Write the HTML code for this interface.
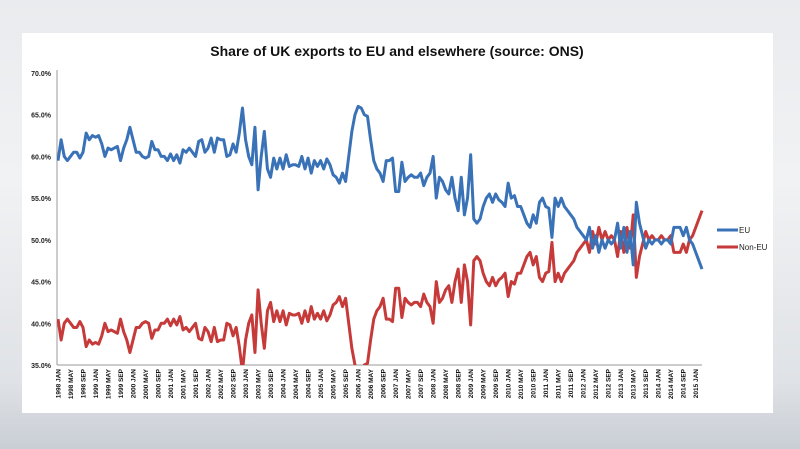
<!DOCTYPE html>
<html><head><meta charset="utf-8">
<style>
html,body{margin:0;padding:0;width:800px;height:449px;overflow:hidden;
background:linear-gradient(180deg,#e9ebee 0%,#f1f2f4 40%,#dfe2e6 85%,#c9ced5 100%);
font-family:"Liberation Sans",sans-serif;}
#panel{position:absolute;left:22px;top:33px;width:751px;height:380px;background:#fff;}
svg{position:absolute;left:0;top:0;}
</style></head>
<body>
<div id="panel"></div>
<svg id="chart" width="800" height="449">
<defs><clipPath id="plotclip"><rect x="57" y="70" width="660" height="295"/></clipPath></defs>
<text x="397" y="56" text-anchor="middle" font-size="14" font-weight="bold" fill="#111">Share of UK exports to EU and elsewhere (source: ONS)</text>
<g id="yaxis"></g><g id="xaxis"></g><g id="series" clip-path="url(#plotclip)"></g>
<g>
<line x1="717" y1="230" x2="738" y2="230" stroke="#3a72b8" stroke-width="3"/>
<text x="739" y="233" font-size="8" fill="#222">EU</text>
<line x1="717" y1="247" x2="738" y2="247" stroke="#c63a3a" stroke-width="3"/>
<text x="739" y="250" font-size="8" fill="#222">Non-EU</text>
</g>
</svg>
<script>
const yTicks=[70,65,60,55,50,45,40,35];
const years=[1998,1999,2000,2001,2002,2003,2004,2005,2006,2007,2008,2009,2010,2011,2012,2013,2014,2015];
const monthLabels=["JAN","MAY","SEP"];
const euValues=[
59.5,62,60,59.5,60,60.5,60.5,59.8,60.5,62.8,62,62.5,
62.3,62.5,61.5,60,61,60.8,61,61.2,59.5,61,62,63.5,
62,60.5,60.5,60,59.8,60,61.8,60.8,60.8,60,60,59.5,
60.3,59.5,60.2,59.2,60.8,60.5,61,60.5,60,61.8,62,60.5,
61,62.2,60.5,62.2,62,62,60,60.2,61.5,60.5,62.8,65.8,
62,60,59,63.5,56,60,63,58.5,57.5,59.8,58.5,59.8,
58.5,60.2,58.8,59,59,58.8,60,58.5,59.8,58,59.5,58.8,
59.5,58.5,59.7,59,57.8,57.5,56.8,58,57,60,63,65,
66,65.8,65,64.8,62,59.5,58.5,58,57,59.5,59.5,59.8,
55.8,55.8,59.3,57,57.5,57.8,57.5,57.5,58,56.5,57.5,58,
60,55,57.5,57,56,55.5,57.5,55,53.5,57.5,53,55,
60.2,52.5,52,52.5,54,55,55.5,54.5,55.5,54.8,54.5,54,
56.8,55,55.3,54,54,53,52,51.5,53,52,54.5,55,
54,53.8,50.3,55,54,55,54,53.5,53,52.5,51.5,51,
50.5,50,51.5,49,50.5,48.5,50,49,50,49.5,50,52,
49,51.5,48.5,51,47,54.5,52,50.5,49,50,49.5,50,
50,49.5,50,50,49.5,51.5,51.5,51.5,50.5,51.5,50,49.5,
48.5,47.5,46.5];
const nonEuValues=[
40.5,38,40,40.5,40,39.5,39.5,40.2,39.5,37.2,38,37.5,
37.7,37.5,38.5,40,39,39.2,39,38.8,40.5,39,38,36.5,
38,39.5,39.5,40,40.2,40,38.2,39.2,39.2,40,40,40.5,
39.7,40.5,39.8,40.8,39.2,39.5,39,39.5,40,38.2,38,39.5,
39,37.8,39.5,37.8,38,38,40,39.8,38.5,39.5,37.2,34.2,
38,40,41,36.5,44,40,37,41.5,42.5,40.2,41.5,40.2,
41.5,39.8,41.2,41,41,41.2,40,41.5,40.2,42,40.5,41.2,
40.5,41.5,40.3,41,42.2,42.5,43.2,42,43,40,37,35,
34,34.2,35,35.2,38,40.5,41.5,42,43,40.5,40.5,40.2,
44.2,44.2,40.7,43,42.5,42.2,42.5,42.5,42,43.5,42.5,42,
40,45,42.5,43,44,44.5,42.5,45,46.5,42.5,47,45,
39.8,47.5,48,47.5,46,45,44.5,45.5,44.5,45.2,45.5,46,
43.2,45,44.7,46,46,47,48,48.5,47,48,45.5,45,
46,46.2,49.7,45,46,45,46,46.5,47,47.5,48.5,49,
49.5,50,48.5,51,49.5,51.5,50,51,50,50.5,50,48,
51,48.5,51.5,49,53,45.5,48,49.5,51,50,50.5,50,
50,50.5,50,50,50.5,48.5,48.5,48.5,49.5,48.5,50,50.5,
51.5,52.5,53.5];

const NS="http://www.w3.org/2000/svg";
const X0=58,X1=702,Y0=73,Y1=365,VMAX=70,VMIN=35,NMON=206;
function xs(i){return X0+i*(X1-X0)/NMON;}
function ys(v){return Y0+(VMAX-v)*(Y1-Y0)/(VMAX-VMIN);}
function mk(tag,attrs,parent){const e=document.createElementNS(NS,tag);for(const k in attrs)e.setAttribute(k,attrs[k]);parent.appendChild(e);return e;}

const ya=document.getElementById('yaxis');
const yl=mk('line',{x1:57,y1:70,x2:57,y2:Y1,stroke:'#9a9a9a','stroke-width':1},ya);


yTicks.forEach(t=>{
  const tx=mk('text',{x:51,y:ys(t)+3,'text-anchor':'end','font-size':7,fill:'#222','font-weight':'bold'},ya);
  tx.textContent=t.toFixed(1)+'%';
  
  
});
const xa=document.getElementById('xaxis');
const xl=mk('line',{x1:57,y1:Y1,x2:X1,y2:Y1,stroke:'#9a9a9a','stroke-width':1},xa);


years.forEach(y=>{monthLabels.forEach((m,j)=>{
  const mi=(y-1998)*12+j*4;
  if(mi>NMON)return;
  const px=xs(mi)+2.5;
  const tx=mk('text',{x:0,y:0,transform:`translate(${px},369) rotate(-90)`,'text-anchor':'end','font-size':6.5,fill:'#111','font-weight':'bold'},xa);
  tx.textContent=y+' '+m;
  
  
});});

const sg=document.getElementById('series');
function drawLine(vals,color,name){
  const d=vals.map((v,i)=>(i?'L':'M')+xs(i).toFixed(2)+' '+ys(v).toFixed(2)).join(' ');
  const p=mk('path',{d:d,fill:'none',stroke:color,'stroke-width':3,'stroke-linejoin':'round'},sg);
  
  
}
drawLine(nonEuValues,'#c63a3a','non-eu-line');
drawLine(euValues,'#3a72b8','eu-line');
</script>
</body></html>
